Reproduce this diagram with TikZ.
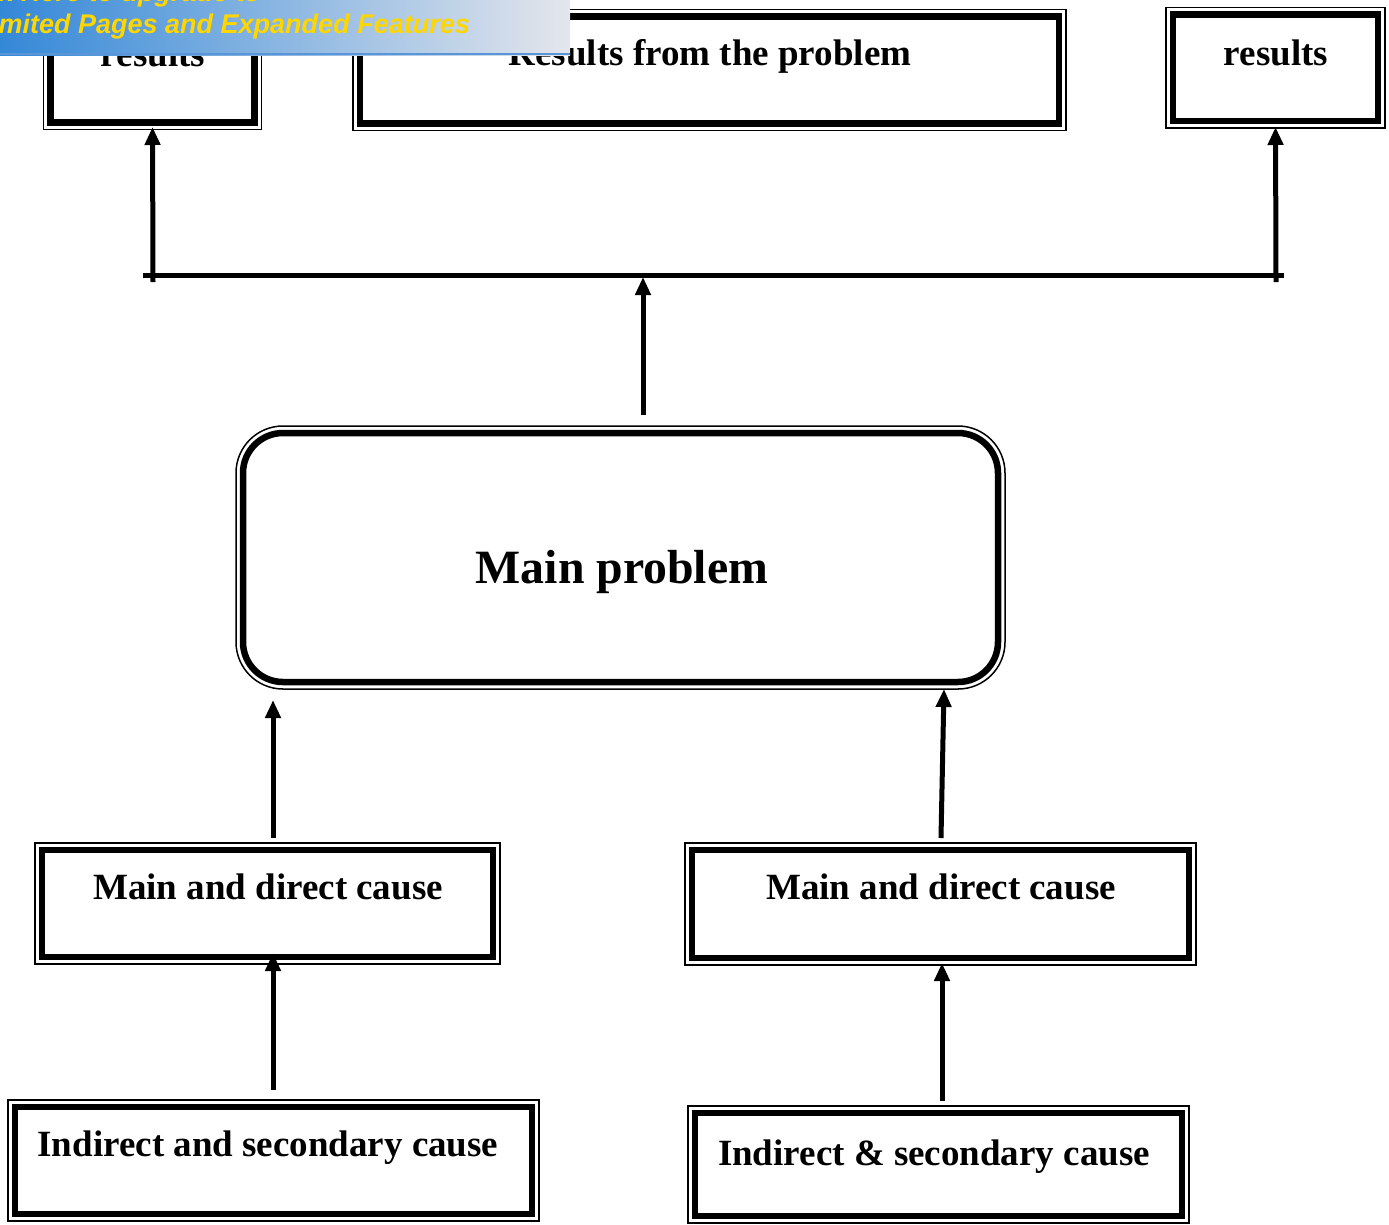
\documentclass[tikz,border=0pt]{standalone}
\usepackage{fontspec}
\setmainfont{Liberation Serif}
\newfontfamily\bannerfont{Liberation Sans}
\usetikzlibrary{arrows.meta}
\definecolor{bannerleft}{RGB}{52,136,216}
\definecolor{bannerright}{RGB}{228,230,236}
\definecolor{bannerline}{RGB}{90,150,215}
\definecolor{banneryellow}{RGB}{255,214,0}
\tikzset{
  boxstyle/.style={draw, line width=6.5pt, inner sep=0pt, outer sep=0pt, fill=white},
  outline/.style={line width=1.5pt},
  lbl/.style={anchor=base, font=\fontsize{37}{44}\selectfont\bfseries, inner sep=0pt},
  biglbl/.style={anchor=base, font=\fontsize{47.8}{56}\selectfont\bfseries, inner sep=0pt},
  conn/.style={line width=5pt, -{Triangle[width=15pt,length=18pt]}},
  barline/.style={line width=5pt}
}
\begin{document}
\begin{tikzpicture}[x=1pt,y=-1pt]
\useasboundingbox (0,0) rectangle (1389,1224);
\fill[white] (0,0) rectangle (1389,1224);

% boxes
\node[boxstyle, minimum width=204pt, minimum height=106.5pt] (tl) at (152.5,69.25) {};
\node[boxstyle, minimum width=699pt, minimum height=107pt] (tc) at (709.5,70) {};
\node[boxstyle, minimum width=205pt, minimum height=106.5pt] (tr) at (1275.5,67.75) {};
\node[boxstyle, rounded corners=40pt, minimum width=755pt, minimum height=249pt] (mp) at (620.5,557.5) {};
\node[boxstyle, minimum width=451pt, minimum height=107pt] (lm) at (267.5,903.5) {};
\node[boxstyle, minimum width=497pt, minimum height=108pt] (rm) at (940.5,904) {};
\node[boxstyle, minimum width=517pt, minimum height=107pt] (lb) at (273.5,1160.5) {};
\node[boxstyle, minimum width=487pt, minimum height=103pt] (rb) at (938.5,1164.5) {};

\foreach \n in {tl,tc,tr,lm,rm,lb,rb}
  \draw[outline] ([shift={(-7,-7)}]\n.north west) rectangle ([shift={(7,7)}]\n.south east);
\draw[outline, rounded corners=47pt] ([shift={(-7,-7)}]mp.north west) rectangle ([shift={(7,7)}]mp.south east);

% texts
\node[lbl] (ttl) at (153,66) {results};
\node[lbl] (ttc) at (710,65) {Results from the problem};
\node[lbl] (ttr) at (1276,65) {results};
\node[biglbl] (tmp) at (622,583) {Main problem};
\node[lbl] (tlm) at (268,899) {Main and direct cause};
\node[lbl] (trm) at (941,899) {Main and direct cause};
\node[lbl] (tlb) at (268,1156) {Indirect and secondary cause};
\node[lbl] (trb) at (934,1165) {Indirect \& secondary cause};

% connectors
\coordinate (bl) at (143,275);
\coordinate (br) at (1284,275);
\draw[barline] (bl) -- (br);
\coordinate (al) at (153,282);
\coordinate (ar) at (1276,282);
\draw[conn, shorten >=4.5pt] (al) -- (tl.south);
\draw[conn, shorten >=6pt] (ar) -- (tr.south);
\coordinate (m1) at (643,415);
\coordinate (m2) at (643,277);
\draw[conn] (m1) -- (m2);
\coordinate (c1) at (273,838);
\coordinate (c2) at (273,700);
\draw[conn] (c1) -- (c2);
\coordinate (d1) at (941,838);
\coordinate (d2) at (944,689);
\draw[conn] (d1) -- (d2);
\coordinate (e1) at (273,1090);
\coordinate (e2) at (273,953);
\draw[conn] (e1) -- (e2);
\coordinate (f1) at (942,1101);
\coordinate (f2) at (942,963);
\draw[conn] (f1) -- (f2);

% banner
\begin{scope}
\clip (0,0) rectangle (570,55);
\shade[left color=bannerleft, right color=bannerright] (0,0) rectangle (570,55);
\draw[line width=1.5pt, bannerline] (0,54) -- (570,54);
\node[anchor=base east, inner sep=0pt, text=banneryellow, font=\bannerfont\bfseries\itshape\fontsize{27}{32}\selectfont] (w2) at (470,33) {Unlimited Pages and Expanded Features};
\node[anchor=base west, inner sep=0pt, text=banneryellow, font=\bannerfont\bfseries\itshape\fontsize{27}{32}\selectfont] (w1) at (-51,1) {Click Here to upgrade to};
\end{scope}
\end{tikzpicture}
\end{document}
